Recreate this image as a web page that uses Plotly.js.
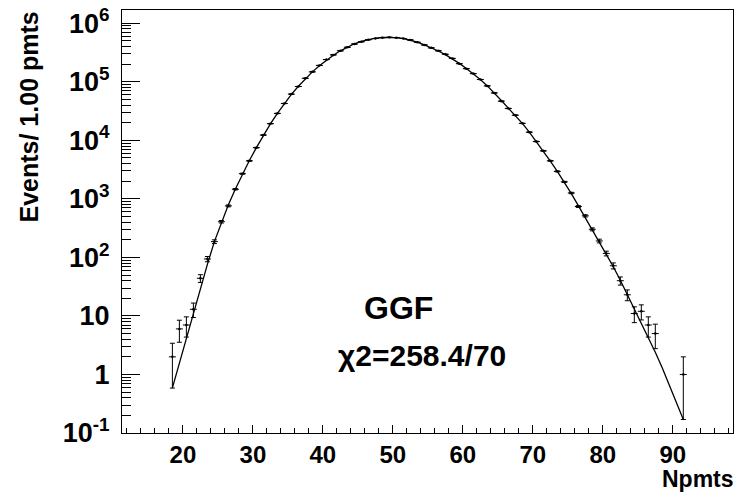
<!DOCTYPE html>
<html>
<head>
<meta charset="utf-8">
<script src="https://cdn.plot.ly/plotly-3.0.1.min.js"></script>
<style>html,body{margin:0;padding:0;background:#fff;}#chart{width:736px;height:492px;}</style>
</head>
<body>
<div id="chart"></div>
<script>
// Data points (bin centers, Npmts) and event counts
var dataX = [18.5,19.5,20.5,21.5,22.5,23.5,24.5,25.5,26.5,27.5,28.5,29.5,30.5,31.5,32.5,33.5,34.5,35.5,36.5,37.5,38.5,39.5,
             40.5,41.5,42.5,43.5,44.5,45.5,46.5,47.5,48.5,49.5,50.5,51.5,52.5,53.5,54.5,55.5,56.5,57.5,58.5,59.5,
             60.5,61.5,62.5,63.5,64.5,65.5,66.5,67.5,68.5,69.5,70.5,71.5,72.5,73.5,74.5,75.5,76.5,77.5,78.5,79.5,
             80.5,81.5,82.5,83.5,84.5,85.5,86.5,87.5,91.5];
var dataCounts = [2,6,7,13,44,94,186,407,759,1462,2692,4467,7499,12303,19275,28840,42658,61660,83176,114815,147911,190546,
                  239883,288403,338844,389045,441570,484172,524807,549541,568853,575440,568853,549541,518800,473150,426580,380190,338840,295120,251190,204170,
                  167880,138040,109650,85110,64570,46770,35080,26920,19500,13800,9550,6610,4470,2950,1950,1260,741,513,302,191,
                  117,72,40,23,11,12,7,5,1];
// Fit curve values at bin centers
var fitX = [18.5,19.5,20.5,21.5,22.5,23.5,24.5,25.5,26.5,27.5,28.5,29.5,30.5,31.5,32.5,33.5,34.5,35.5,36.5,37.5,38.5,39.5,
            40.5,41.5,42.5,43.5,44.5,45.5,46.5,47.5,48.5,49.5,50.5,51.5,52.5,53.5,54.5,55.5,56.5,57.5,58.5,59.5,
            60.5,61.5,62.5,63.5,64.5,65.5,66.5,67.5,68.5,69.5,70.5,71.5,72.5,73.5,74.5,75.5,76.5,77.5,78.5,79.5,
            80.5,81.5,82.5,83.5,84.5,85.5,86.5,87.5,88.5,89.5,90.5,91.5];
var fitY = [0.59,1.58,4.27,10.5,28.2,75.9,186,398,794,1479,2630,4519,7499,12162,19055,28840,42658,60954,84140,113500,147911,188365,
            234423,285102,338844,393550,446684,492040,529650,555900,571480,575440,568853,549541,517600,475340,428550,381940,336510,291740,248310,206540,
            169050,137090,109650,85114,64565,47863,35481,26607,19498,13804,9550,6531,4416,2951,1928,1230,767,479,299,186,
            115,69.2,40.7,23.4,12.6,7.24,4.17,2.40,1.29,0.66,0.34,0.17];
// Axis tick labels
var yTickVals = [0.1,1,10,100,1000,10000,100000,1000000];
var yTickText = ['10<sup>-1</sup>','1','10','10<sup>2</sup>','10<sup>3</sup>','10<sup>4</sup>','10<sup>5</sup>','10<sup>6</sup>'];
var xTickVals = [20,30,40,50,60,70,80,90];
var xTickText = ['20','30','40','50','60','70','80','90'];
var yTitle = 'Events/ 1.00 pmts';
var xTitle = 'Npmts';
var label1 = 'GGF';
var label2 = '\u03C72=258.4/70';

var errUp = dataCounts.map(function(n){return Math.sqrt(n);});
var errDown = dataCounts.map(function(n){return Math.min(Math.sqrt(n), n*0.83);});

var FONT = 'Liberation Sans, Arial, Helvetica, sans-serif';

var traces = [
  {
    x: fitX, y: fitY, type: 'scatter', mode: 'lines',
    line: {color: '#000', width: 1.3}, hoverinfo: 'skip', showlegend: false
  },
  {
    x: dataX, y: dataCounts, type: 'scatter', mode: 'markers',
    marker: {color: '#000', size: 2.5},
    error_x: {type: 'constant', value: 0.5, width: 0, thickness: 1, color: '#000'},
    error_y: {type: 'data', array: errUp, arrayminus: errDown, symmetric: false, width: 2.5, thickness: 1, color: '#000'},
    showlegend: false
  }
];

var layout = {
  width: 736, height: 492,
  margin: {l: 122, r: 3, t: 10, b: 59, pad: 0},
  paper_bgcolor: '#fff', plot_bgcolor: '#fff',
  showlegend: false,
  xaxis: {
    range: [11.3, 98.6], showgrid: false, zeroline: false,
    showline: true, linecolor: '#000', linewidth: 1, mirror: true,
    ticks: 'inside', ticklen: 8, tickwidth: 1, tickcolor: '#000',
    tickmode: 'array', tickvals: xTickVals, ticktext: xTickText,
    minor: {ticks: 'inside', dtick: 2, tick0: 0, ticklen: 5, tickwidth: 1, tickcolor: '#000', showgrid: false},
    tickfont: {family: FONT, size: 24, color: '#000', weight: 'bold'},
    ticklabelstandoff: 0
  },
  yaxis: {
    type: 'log', range: [-1, 6.227], showgrid: false, zeroline: false,
    showline: true, linecolor: '#000', linewidth: 1, mirror: true,
    ticks: 'inside', ticklen: 18, tickwidth: 1, tickcolor: '#000',
    tickmode: 'array', tickvals: yTickVals, ticktext: yTickText,
    minor: {ticks: 'inside', dtick: 'D1', ticklen: 9, tickwidth: 1, tickcolor: '#000', showgrid: false},
    tickfont: {family: FONT, size: 27, color: '#000', weight: 'bold'},
    ticklabelstandoff: 6
  },
  annotations: [
    {xref: 'paper', yref: 'paper', x: (28 - 122) / 611, y: 1.0, xanchor: 'center', yanchor: 'top',
     text: yTitle, textangle: -90, showarrow: false,
     font: {family: FONT, size: 25, color: '#000', weight: 'bold'}},
    {xref: 'paper', yref: 'paper', x: (735 - 122) / 611, y: -60 / 423, xanchor: 'right', yanchor: 'bottom',
     text: xTitle, showarrow: false, borderpad: 0,
     font: {family: FONT, size: 23, color: '#000', weight: 'bold'}},
    {xref: 'paper', yref: 'paper', x: (398 - 122) / 611, y: (433 - 308) / 423, xanchor: 'center', yanchor: 'middle',
     text: label1, showarrow: false,
     font: {family: FONT, size: 32, color: '#000', weight: 'bold'}},
    {xref: 'paper', yref: 'paper', x: (422 - 122) / 611, y: (433 - 355) / 423, xanchor: 'center', yanchor: 'middle',
     text: label2, showarrow: false,
     font: {family: FONT, size: 30, color: '#000', weight: 'bold'}}
  ]
};

Plotly.newPlot('chart', traces, layout, {displayModeBar: false, staticPlot: true});
</script>
</body>
</html>
